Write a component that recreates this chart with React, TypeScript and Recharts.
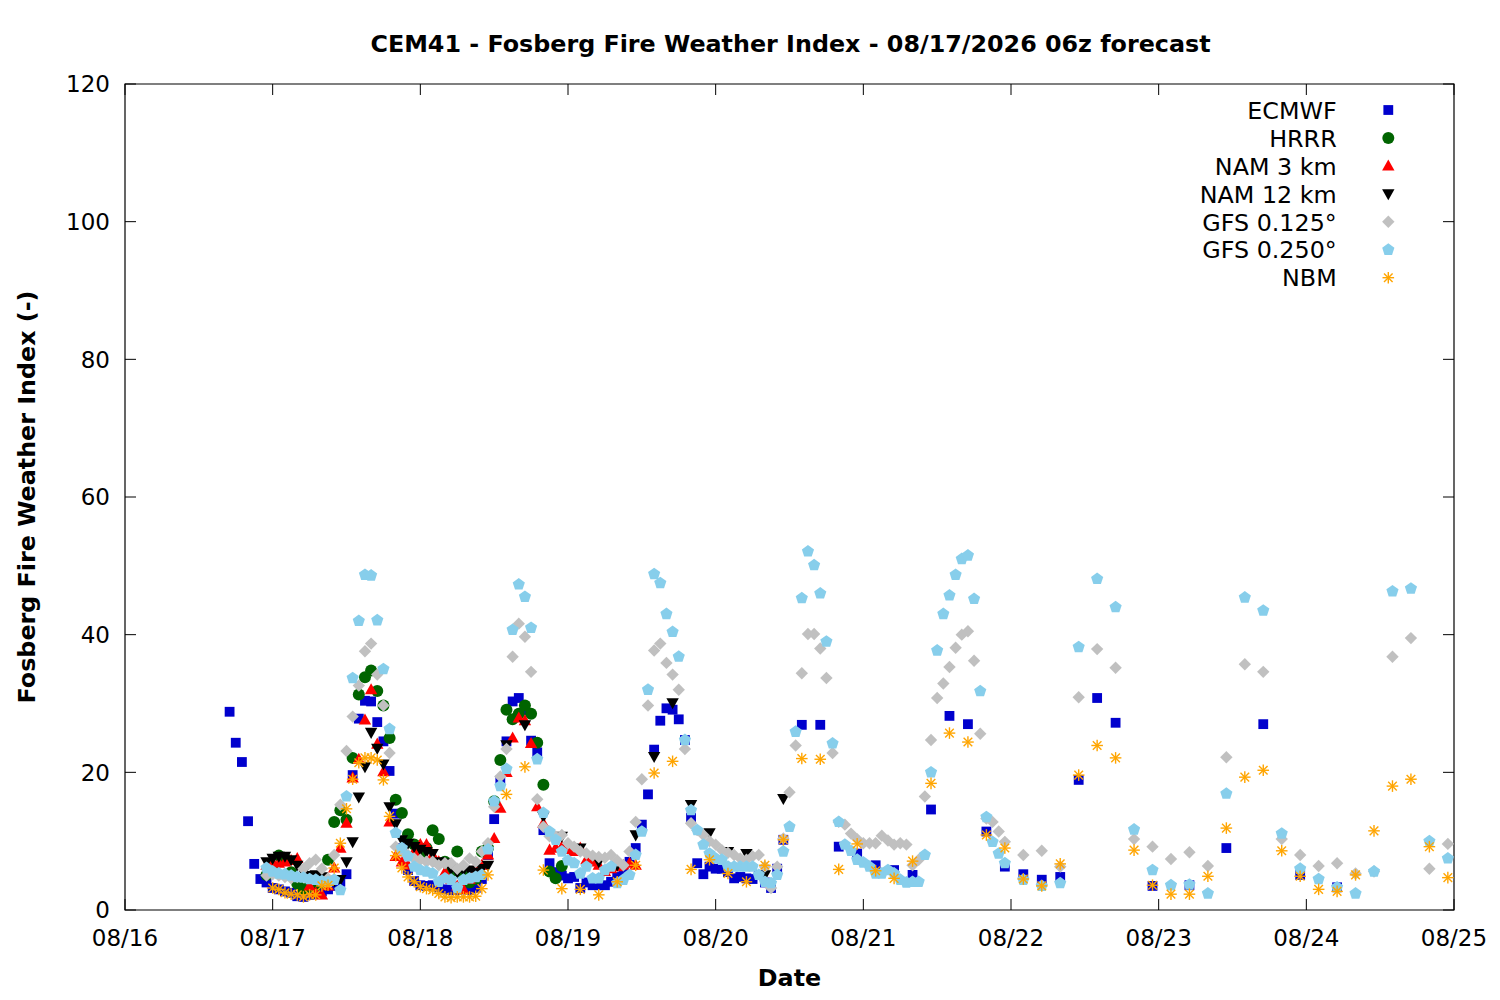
import React from 'react';
import { ScatterChart, Scatter, XAxis, YAxis, ReferenceArea, Legend } from 'recharts';

// ---------- axis categories ----------
const dayTicks = [0, 24, 48, 72, 96, 120, 144, 168, 192, 216];
const dayLabels = ['08/16', '08/17', '08/18', '08/19', '08/20', '08/21', '08/22', '08/23', '08/24', '08/25'];
const valueTicks = [0, 20, 40, 60, 80, 100, 120];

// time grid helper (hours after 08/16 00h)
const hourGrid = (start: number, end: number, step: number) => {
  const out: number[] = [];
  for (let h = start; h <= end; h += step) out.push(h);
  return out;
};

// ---------- ECMWF ----------
const ecmwfHours = [...hourGrid(17, 107, 1), ...hourGrid(110, 161, 3), ...hourGrid(167, 197, 6)];
const ecmwfValues = [
  28.8, 24.3, 21.5, 12.9, 6.7, 4.5, 4.0, 3.2, 3.0, 2.7,
  2.5, 2.0, 1.9, 2.2, 2.3, 2.7, 3.0, 3.5, 4.1, 5.2,
  19.6, 27.8, 30.4, 30.3, 27.3, 24.5, 20.2, 14.0, 9.0, 5.8,
  4.2, 3.6, 3.5, 3.6, 3.3, 3.0, 2.9, 2.9, 3.0, 2.9,
  3.2, 4.5, 8.0, 13.2, 18.8, 24.5, 30.3, 30.8, 29.0, 24.6,
  22.9, 11.6, 6.8, 5.5, 5.0, 4.6, 4.8, 3.2, 4.0, 3.6,
  3.6, 3.6, 4.1, 4.8, 5.5, 7.0, 9.0, 12.4, 16.8, 23.3,
  27.5, 29.3, 29.1, 27.7, 24.7, 13.4, 6.8, 5.2, 6.3, 6.0,
  6.0, 5.5, 4.6, 4.8, 4.6, 4.5, 5.1, 4.0, 3.2, 6.0,
  10.2,
  26.9, 26.9, 9.2, 8.2, 6.5, 5.8, 5.1, 14.6, 28.2, 27.0,
  11.4, 6.3, 5.2, 4.4, 4.8, 18.9, 30.8, 27.2,
  3.5, 3.6, 9.0, 27.0, 5.1, 3.3,
];

// ---------- HRRR ----------
const hrrrHours = hourGrid(23, 71, 1);
const hrrrValues = [
  5.1, 6.0, 7.9, 7.5, 5.5, 3.8, 3.0, 3.4, 3.6, 4.0,
  7.3, 12.8, 14.5, 13.1, 22.1, 31.3, 33.8, 34.8, 31.8, 29.7,
  25.0, 16.0, 14.1, 11.0, 9.5, 8.2, 9.0, 11.6, 10.3, 7.0,
  5.5, 8.5, 5.0, 4.0, 4.5, 8.5, 9.0, 15.8, 21.8, 29.1,
  27.7, 28.5, 29.7, 28.5, 24.3, 18.2, 5.6, 4.6, 6.4,
];

// ---------- NAM 3 km ----------
const nam3Hours = hourGrid(23, 83, 1);
const nam3Values = [
  6.5, 7.0, 6.8, 7.0, 7.2, 7.5, 5.0, 3.5, 2.5, 2.2,
  3.5, 6.1, 9.0, 12.6, 19.2, 21.9, 27.6, 32.0, 24.1, 20.1,
  12.8, 7.8, 7.0, 6.5, 8.5, 9.5, 9.5, 8.0, 7.0, 5.5,
  4.5, 3.5, 3.0, 4.5, 6.1, 6.5, 8.0, 10.4, 14.8, 20.0,
  25.0, 27.9, 27.5, 24.2, 15.0, 12.6, 8.7, 9.0, 9.2, 8.8,
  8.5, 9.0, 7.3, 7.0, 6.5, 5.6, 6.0, 6.3, 6.5, 6.8,
  6.5,
];

// ---------- NAM 12 km ----------
const nam12Hours = [...hourGrid(23, 59, 1), ...hourGrid(62, 107, 3)];
const nam12Values = [
  7.0, 7.5, 7.8, 7.8, 7.3, 6.5, 5.5, 5.0, 5.1, 4.8,
  4.3, 4.2, 4.4, 7.0, 9.9, 16.4, 20.8, 25.8, 23.5, 21.2,
  15.0, 12.5, 10.2, 9.7, 9.2, 8.8, 8.5, 8.2, 7.0, 6.8,
  6.0, 5.5, 5.8, 5.8, 5.5, 6.0, 6.5,
  24.0, 26.9, 13.6, 10.7, 9.0, 7.0, 6.5, 10.9, 22.3, 30.1,
  15.3, 11.2, 8.5, 8.2, 5.1, 16.2,
];

// ---------- GFS 0.125° ----------
const gfs125Hours = [...hourGrid(23, 143, 1), ...hourGrid(146, 215, 3)];
const gfs125Values = [
  5.0, 5.2, 5.0, 4.8, 4.6, 4.8, 6.0, 6.8, 7.3, 6.0,
  4.6, 8.0, 15.3, 23.1, 28.1, 32.6, 37.6, 38.7, 34.2, 29.7,
  22.8, 9.2, 8.5, 8.0, 7.5, 7.3, 7.0, 7.0, 6.5, 6.8,
  6.8, 6.0, 6.5, 7.5, 7.0, 8.5, 9.7, 15.0, 19.4, 23.4,
  36.8, 41.6, 39.7, 34.6, 16.1, 12.1, 10.7, 10.7, 10.9, 9.7,
  9.2, 8.5, 8.2, 7.9, 7.7, 7.6, 8.0, 7.2, 6.5, 8.5,
  12.8, 19.0, 29.7, 37.7, 38.7, 35.9, 34.2, 32.0, 23.4, 12.6,
  11.6, 10.9, 10.0, 9.5, 8.7, 8.3, 8.0, 7.5, 7.3, 7.8,
  8.0, 6.3, 3.2, 6.3, 10.4, 17.1, 23.9, 34.4, 40.1, 40.1,
  38.0, 33.7, 22.8, 12.8, 12.4, 11.1, 10.3, 9.7, 9.7, 9.7,
  10.8, 10.1, 9.5, 9.7, 9.5, 6.5, 7.3, 16.5, 24.7, 30.8,
  32.9, 35.3, 38.1, 40.0, 40.5, 36.2, 25.6, 13.3, 12.8, 11.4,
  9.9,
  8.0, 8.6, 6.3, 30.9, 37.9, 35.2, 10.3, 9.2, 7.4, 8.4,
  6.4, 22.2, 35.7, 34.6, 10.3, 8.0, 6.4, 6.8, 5.3, 5.6,
  36.8, 39.5, 6.0, 9.6,
];

// ---------- GFS 0.250° ----------
const gfs250Hours = [...hourGrid(23, 143, 1), ...hourGrid(146, 215, 3)];
const gfs250Values = [
  6.1, 5.6, 5.3, 5.2, 5.0, 4.8, 4.7, 4.5, 4.4, 4.2,
  4.1, 4.4, 2.9, 16.5, 33.7, 42.0, 48.7, 48.6, 42.1, 35.0,
  26.3, 11.2, 9.0, 7.8, 6.3, 5.8, 5.6, 5.3, 4.1, 4.6,
  4.4, 3.2, 4.4, 4.6, 4.8, 5.1, 8.8, 15.8, 18.0, 20.5,
  40.7, 47.3, 45.5, 41.0, 21.9, 14.1, 11.4, 10.2, 8.5, 7.2,
  6.8, 5.3, 6.3, 4.6, 4.6, 5.8, 6.3, 3.9, 4.4, 5.1,
  8.0, 11.4, 32.0, 48.8, 47.5, 43.0, 40.4, 36.8, 24.7, 14.5,
  11.6, 9.5, 8.2, 7.5, 7.3, 6.3, 6.3, 6.3, 6.3, 6.3,
  5.1, 4.1, 3.9, 5.1, 8.5, 12.1, 25.9, 45.3, 52.1, 50.1,
  46.0, 39.0, 24.2, 12.8, 9.5, 8.6, 7.3, 6.9, 6.3, 5.3,
  5.3, 5.8, 5.3, 4.4, 4.0, 4.1, 4.1, 8.0, 20.0, 37.7,
  43.0, 45.7, 48.7, 51.0, 51.5, 45.2, 31.8, 13.5, 9.9, 8.2,
  6.8,
  4.4, 3.5, 3.9, 38.2, 48.1, 44.0, 11.7, 5.8, 3.6, 3.7,
  2.4, 16.9, 45.4, 43.5, 11.1, 6.0, 4.5, 3.3, 2.4, 5.6,
  46.3, 46.7, 10.0, 7.5,
];

// ---------- NBM ----------
const nbmHours = [...hourGrid(24, 59, 1), ...hourGrid(62, 215, 3)];
const nbmValues = [
  3.2, 3.0, 2.5, 2.3, 2.2, 1.9, 2.2, 2.2, 3.5, 3.6,
  6.1, 9.7, 14.7, 19.0, 21.4, 22.1, 22.1, 21.8, 18.9, 13.6,
  7.9, 6.1, 4.8, 4.1, 3.4, 3.1, 2.9, 2.4, 1.9, 1.8,
  1.9, 1.9, 1.9, 2.0, 3.1, 5.1,
  16.8, 20.8, 5.8, 3.1, 3.0, 2.2, 4.1, 6.5, 19.9, 21.6,
  5.9, 7.3, 5.3, 4.1, 6.5, 10.2, 22.0, 21.9, 5.9, 9.6,
  5.7, 4.6, 7.1, 18.4, 25.7, 24.4, 10.9, 9.0, 4.5, 3.5,
  6.7, 19.6, 23.9, 22.1, 8.7, 3.6, 2.3, 2.3, 4.9, 11.9,
  19.3, 20.3, 8.6, 4.9, 3.0, 2.7, 5.1, 11.5, 18.0, 19.0,
  9.2, 4.7,
];

const toPoints = (hours: number[], values: number[]) =>
  values.slice(0, hours.length).map((v, i) => ({ x: hours[i], y: v }));

// ---------- layout constants ----------
const W = 1484;
const H = 984;
const M = { top: 76, right: 38, bottom: 42, left: 57 };
const X_AXIS_H = 40;
const Y_AXIS_W = 60;
const PLOT_LEFT = M.left + Y_AXIS_W;
const PLOT_TOP = M.top;
const PLOT_RIGHT = W - M.right;
const PLOT_BOTTOM = H - M.bottom - X_AXIS_H;
const FONT = "'DejaVu Sans', sans-serif";
const FS = 23;
const FS_BIG = 23.8;
const TICK = 11;

// ---------- marker glyphs ----------
type MarkProps = { cx?: number; cy?: number };
const colors = {
  ecmwf: '#0000cd',
  hrrr: '#006400',
  nam3: '#ff0000',
  nam12: '#000000',
  gfs125: '#c0c0c0',
  gfs250: '#87ceeb',
  nbm: '#ffa500',
};

const squareGlyph = (cx: number, cy: number, c: string) => (
  <rect x={cx - 4.9} y={cy - 4.9} width={9.8} height={9.8} fill={c} />
);
const circleGlyph = (cx: number, cy: number, c: string) => <circle cx={cx} cy={cy} r={6} fill={c} />;
const triUpGlyph = (cx: number, cy: number, c: string) => (
  <polygon points={`${cx},${cy - 6.5} ${cx + 6.2},${cy + 4.6} ${cx - 6.2},${cy + 4.6}`} fill={c} />
);
const triDownGlyph = (cx: number, cy: number, c: string) => (
  <polygon points={`${cx},${cy + 6.5} ${cx + 6.2},${cy - 4.6} ${cx - 6.2},${cy - 4.6}`} fill={c} />
);
const diamondGlyph = (cx: number, cy: number, c: string) => (
  <polygon points={`${cx},${cy - 6.2} ${cx + 6.2},${cy} ${cx},${cy + 6.2} ${cx - 6.2},${cy}`} fill={c} />
);
const pentagonGlyph = (cx: number, cy: number, c: string) => {
  const r = 6.4;
  const pts = [0, 1, 2, 3, 4]
    .map((k) => {
      const a = (-90 + 72 * k) * (Math.PI / 180);
      return `${cx + r * Math.cos(a)},${cy + r * Math.sin(a)}`;
    })
    .join(' ');
  return <polygon points={pts} fill={c} />;
};
const asteriskGlyph = (cx: number, cy: number, c: string) => {
  const r = 5.8;
  const d = 4.3;
  return (
    <g stroke={c} strokeWidth={1.4}>
      <line x1={cx - r} y1={cy} x2={cx + r} y2={cy} />
      <line x1={cx} y1={cy - r} x2={cx} y2={cy + r} />
      <line x1={cx - d} y1={cy - d} x2={cx + d} y2={cy + d} />
      <line x1={cx - d} y1={cy + d} x2={cx + d} y2={cy - d} />
    </g>
  );
};

const seriesList = [
  { key: 'ecmwf', name: 'ECMWF', data: toPoints(ecmwfHours, ecmwfValues), glyph: squareGlyph },
  { key: 'hrrr', name: 'HRRR', data: toPoints(hrrrHours, hrrrValues), glyph: circleGlyph },
  { key: 'nam3', name: 'NAM 3 km', data: toPoints(nam3Hours, nam3Values), glyph: triUpGlyph },
  { key: 'nam12', name: 'NAM 12 km', data: toPoints(nam12Hours, nam12Values), glyph: triDownGlyph },
  { key: 'gfs125', name: 'GFS 0.125°', data: toPoints(gfs125Hours, gfs125Values), glyph: diamondGlyph },
  { key: 'gfs250', name: 'GFS 0.250°', data: toPoints(gfs250Hours, gfs250Values), glyph: pentagonGlyph },
  { key: 'nbm', name: 'NBM', data: toPoints(nbmHours, nbmValues), glyph: asteriskGlyph },
] as const;

// ---------- ticks ----------
const XTick = (props: any) => {
  const { x, payload } = props;
  const idx = dayTicks.indexOf(payload.value);
  return (
    <g>
      <line x1={x} x2={x} y1={PLOT_BOTTOM} y2={PLOT_BOTTOM - TICK} stroke="#000" strokeWidth={1} />
      <line x1={x} x2={x} y1={PLOT_TOP} y2={PLOT_TOP + TICK} stroke="#000" strokeWidth={1} />
      <text x={x} y={PLOT_BOTTOM + 35.5} textAnchor="middle" fontFamily={FONT} fontSize={FS} fill="#000">
        {dayLabels[idx]}
      </text>
    </g>
  );
};

const YTick = (props: any) => {
  const { y, payload } = props;
  return (
    <g>
      <line x1={PLOT_LEFT} x2={PLOT_LEFT + TICK} y1={y} y2={y} stroke="#000" strokeWidth={1} />
      <line x1={PLOT_RIGHT} x2={PLOT_RIGHT - TICK} y1={y} y2={y} stroke="#000" strokeWidth={1} />
      <text x={PLOT_LEFT - 15} y={y + 8.4} textAnchor="end" fontFamily={FONT} fontSize={FS} fill="#000">
        {payload.value}
      </text>
    </g>
  );
};

// ---------- legend ----------
const LEG_LEFT = 1100;
const LEG_TOP = 80;
const LegendBox = () => (
  <svg width={300} height={210} style={{ display: 'block', overflow: 'visible' }}>
    {seriesList.map((s, i) => {
      const cy = 22 + 27.95 * i;
      return (
        <g key={s.key}>
          <text x={228.7} y={cy + 8.7} textAnchor="end" fontFamily={FONT} fontSize={FS_BIG} fill="#000">
            {s.name}
          </text>
          {s.glyph(280.3, cy, (colors as any)[s.key])}
        </g>
      );
    })}
  </svg>
);

export default function App() {
  return (
    <div style={{ width: W, height: H }}>
      <ScatterChart width={W} height={H} margin={M}>
        <ReferenceArea x1={0} x2={216} y1={0} y2={120} fill="none" fillOpacity={0} stroke="#000" strokeWidth={1.2} />
        <XAxis
          dataKey="x"
          type="number"
          domain={[0, 216]}
          ticks={dayTicks}
          interval={0}
          height={X_AXIS_H}
          tickLine={false}
          axisLine={false}
          tickSize={0}
          tickMargin={0}
          tick={<XTick />}
          allowDataOverflow
        />
        <YAxis
          dataKey="y"
          type="number"
          domain={[0, 120]}
          ticks={valueTicks}
          interval={0}
          width={Y_AXIS_W}
          tickLine={false}
          axisLine={false}
          tickSize={0}
          tickMargin={0}
          tick={<YTick />}
          allowDataOverflow
        />
        {seriesList.map((s) => (
          <Scatter
            key={s.key}
            name={s.name}
            data={s.data as any}
            fill={(colors as any)[s.key]}
            isAnimationActive={false}
            shape={(p: MarkProps) => s.glyph(p.cx ?? 0, p.cy ?? 0, (colors as any)[s.key])}
          />
        ))}
        <Legend
          layout="vertical"
          align="center"
          verticalAlign="middle"
          wrapperStyle={{ position: 'absolute', left: LEG_LEFT, top: LEG_TOP, width: 300, height: 210 }}
          content={() => <LegendBox />}
        />
        <text x={(PLOT_LEFT + PLOT_RIGHT) / 2 + 1} y={44} textAnchor="middle" fontFamily={FONT} fontSize={FS_BIG} fontWeight="bold" fill="#000">
          CEM41 - Fosberg Fire Weather Index - 08/17/2026 06z forecast
        </text>
        <text x={(PLOT_LEFT + PLOT_RIGHT) / 2} y={977.5} textAnchor="middle" fontFamily={FONT} fontSize={FS_BIG} fontWeight="bold" fill="#000">
          Date
        </text>
        <text
          transform={`translate(27, ${(PLOT_TOP + PLOT_BOTTOM) / 2}) rotate(-90)`}
          textAnchor="middle"
          fontFamily={FONT}
          fontSize={FS_BIG}
          fontWeight="bold"
          fill="#000"
        >
          Fosberg Fire Weather Index (-)
        </text>
      </ScatterChart>
    </div>
  );
}
